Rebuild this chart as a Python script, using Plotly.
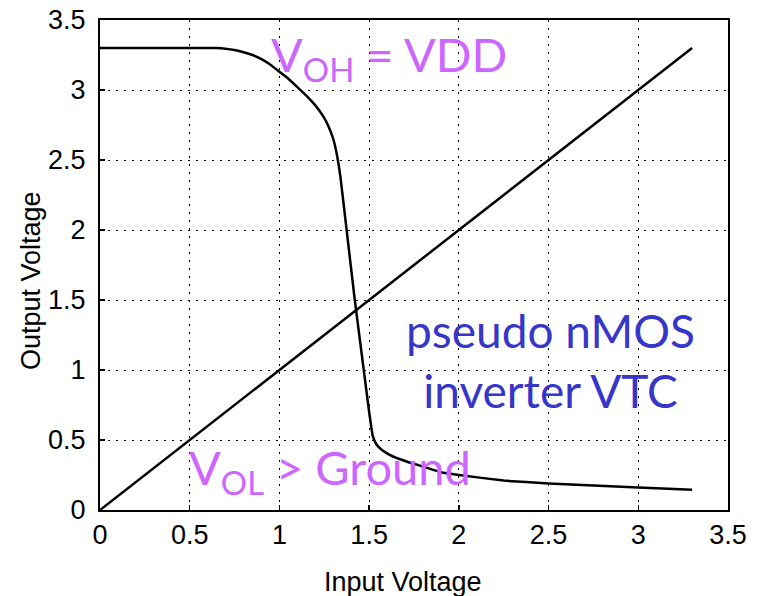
import plotly.graph_objects as go

# Pseudo-nMOS inverter VTC
vin = [0, 0.4, 0.65, 0.7, 0.75, 0.8, 0.85, 0.9, 0.95, 1.0, 1.05, 1.1, 1.15, 1.2,
       1.24, 1.27, 1.30, 1.32, 1.34, 1.37, 1.42, 1.47, 1.50, 1.52, 1.54, 1.57, 1.62,
       1.7, 1.8, 1.9, 2.0, 2.25, 2.5, 2.75, 3.0, 3.3]
vout = [3.3, 3.3, 3.3, 3.295, 3.285, 3.27, 3.25, 3.22, 3.18, 3.13, 3.08, 3.02, 2.96, 2.89,
        2.82, 2.75, 2.65, 2.54, 2.38, 2.05, 1.5, 1.0, 0.7, 0.53, 0.47, 0.43, 0.39,
        0.35, 0.31, 0.27, 0.25, 0.21, 0.19, 0.175, 0.16, 0.145]

# Unity-gain reference line Vout = Vin
diag_x = [0, 3.3]
diag_y = [0, 3.3]

tick_vals = [0, 0.5, 1, 1.5, 2, 2.5, 3, 3.5]
tick_text = ["0", "0.5", "1", "1.5", "2", "2.5", "3", "3.5"]

fig = go.Figure()
fig.add_trace(go.Scatter(x=vin, y=vout, mode="lines",
                         line=dict(color="black", width=2.5, shape="spline", smoothing=0.3),
                         showlegend=False, hoverinfo="skip"))
fig.add_trace(go.Scatter(x=diag_x, y=diag_y, mode="lines",
                         line=dict(color="black", width=2.5),
                         showlegend=False, hoverinfo="skip"))

axis_common = dict(
    range=[0, 3.5], tickvals=tick_vals, ticktext=tick_text,
    showline=True, linecolor="black", linewidth=2, mirror=True,
    ticks="inside", ticklen=5, tickcolor="black", tickwidth=1.5,
    showgrid=True, gridcolor="black", gridwidth=1, griddash="2px,6px",
    zeroline=False, tickfont=dict(family="Liberation Sans, Arial", size=27, color="black"),
    fixedrange=True, automargin=False, ticklabeloverflow="allow",
)
fig.update_xaxes(**axis_common, ticklabelstandoff=0)
fig.update_yaxes(**axis_common, ticklabelstandoff=7)

violet = "#cc66ff"
blue = "#3636c8"
hand = "Comic Sans MS, Lato, sans-serif"

fig.add_annotation(x=0.94, y=3.23, xref="x", yref="y", xanchor="left", yanchor="middle",
                   text="V<sub>OH</sub> = VDD", showarrow=False,
                   font=dict(family=hand, size=47, color=violet))
fig.add_annotation(x=2.51, y=1.07, xref="x", yref="y", xanchor="center", yanchor="middle",
                   text="pseudo nMOS<br>inverter VTC", showarrow=False, align="center",
                   font=dict(family=hand, size=46, color=blue))
fig.add_annotation(x=0.485, y=0.28, xref="x", yref="y", xanchor="left", yanchor="middle",
                   text="V<sub>OL</sub> > Ground", showarrow=False,
                   font=dict(family=hand, size=47, color=violet))

title_font = dict(family="Liberation Sans, Arial", size=27, color="black")
fig.add_annotation(x=0.4825, y=-0.147, xref="paper", yref="paper", xanchor="center",
                   yanchor="middle", text="Input Voltage", showarrow=False, font=title_font)
fig.add_annotation(x=-0.110, y=0.469, xref="paper", yref="paper", xanchor="center",
                   yanchor="middle", text="Output Voltage", showarrow=False, textangle=-90,
                   font=title_font)

fig.update_layout(
    width=761, height=596,
    margin=dict(l=100, r=33, t=20, b=86, autoexpand=False),
    paper_bgcolor="white", plot_bgcolor="white",
    showlegend=False,
)

# remove the browser's default 8px body margin so the figure fills the window
fig.write_html("out.html",
               config={"displayModeBar": False, "staticPlot": True},
               post_script="document.body.style.margin='0';document.body.style.overflow='hidden';")
